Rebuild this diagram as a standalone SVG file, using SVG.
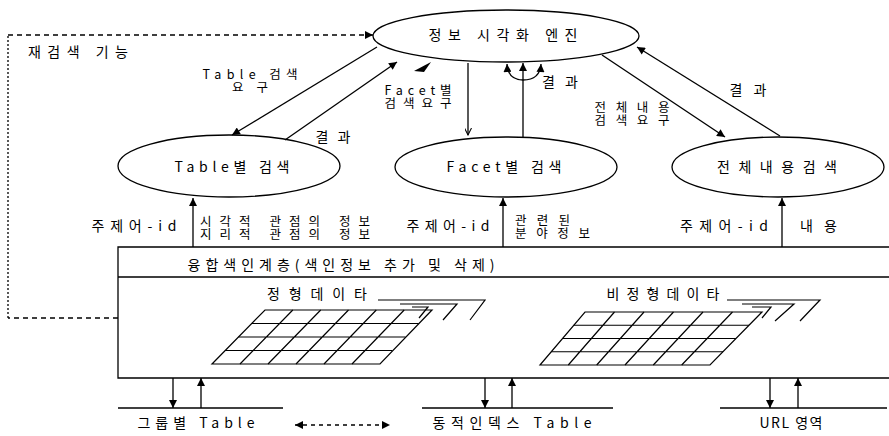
<svg xmlns="http://www.w3.org/2000/svg" width="889" height="436" viewBox="0 0 889 436">
<style>
text{font-family:"Noto Sans CJK KR","Noto Sans",sans-serif;font-size:14px;fill:#000;text-anchor:middle}
.s{text-anchor:start}
.sm{font-size:12.5px}
.ln{stroke:#000;stroke-width:1.3;fill:none}
.nd{stroke:#000;stroke-width:1.3;fill:#fff}
.grid{stroke:#000;stroke-width:1.2;fill:none}
</style>
<defs>
<marker id="arr" viewBox="0 0 10 10" refX="10" refY="5" markerWidth="11" markerHeight="8" markerUnits="userSpaceOnUse" orient="auto-start-reverse"><path d="M0,0 L10,5 L0,10 z" fill="#000"/></marker>
<marker id="open" viewBox="0 0 10 10" refX="10" refY="5" markerWidth="8" markerHeight="7" markerUnits="userSpaceOnUse" orient="auto"><path d="M0,0 L10,5 L0,10" fill="none" stroke="#000" stroke-width="1.5"/></marker>
</defs>
<rect width="889" height="436" fill="#fff"/>

<g id="engine"><ellipse class="nd" cx="506" cy="36" rx="133" ry="26"/><text x="503" y="40" textLength="149" lengthAdjust="spacing">정보 시각화 엔진</text></g>
<g id="table-search"><ellipse class="nd" cx="229" cy="166" rx="111" ry="31"/><text x="232" y="172" textLength="115" lengthAdjust="spacing">Table별 검색</text></g>
<g id="facet-search"><ellipse class="nd" cx="506" cy="167" rx="111" ry="30"/><text x="504" y="172" textLength="115" lengthAdjust="spacing">Facet별 검색</text></g>
<g id="full-search"><ellipse class="nd" cx="778" cy="167" rx="106" ry="30"/><text x="777" y="172" textLength="120" lengthAdjust="spacing">전체내용검색</text></g>

<g id="index-layer">
<path class="ln" d="M889,247 H118 V378 H889 M118,277 H889"/>
<text x="341" y="270" textLength="307" lengthAdjust="spacing">융합색인계층(색인정보 추가 및 삭제)</text>
<text x="317" y="299" textLength="100" lengthAdjust="spacing">정형데이타</text>
<text x="663" y="299" textLength="113" lengthAdjust="spacing">비정형데이타</text>
</g>
<g id="structured-grid" class="grid">
<polygon points="265,310 432,310 380,364 212,364"/>
<path d="M292.8,310 L240,364 M320.7,310 L268,364 M348.5,310 L296,364 M376.3,310 L324,364 M404.2,310 L352,364 M251.75,323.5 H418.75 M238.5,337 H405.5 M225.25,350.5 H392.25"/>
<path d="M378,300 H485 L470,320 M400,304 H457 L443,320 M412,307 H428 L419,318"/>
</g>
<g id="unstructured-grid" class="grid">
<polygon points="585,312 762,312 710,365 540,365"/>
<path d="M614.5,312 L568.3,365 M644,312 L596.7,365 M673.5,312 L625,365 M703,312 L653.3,365 M732.5,312 L681.7,365 M573.75,325.25 H749 M562.5,338.5 H736 M551.25,351.75 H723"/>
<path d="M727,300 H820 L800,321 M742,304 H794 L775,321 M752,307 H771 L762,318"/>
</g>

<g id="group-table"><path class="ln" d="M118,408 H283"/><text x="196" y="428" textLength="117" lengthAdjust="spacing">그룹별 Table</text></g>
<g id="dynamic-index-table"><path class="ln" d="M422,408 H613"/><text x="512" y="428" textLength="159" lengthAdjust="spacing">동적인덱스 Table</text></g>
<g id="url-area"><path class="ln" d="M720,408 H887"/><text x="791" y="428" textLength="63" lengthAdjust="spacing">URL 영역</text></g>

<g id="research-label"><text x="78" y="57" textLength="100" lengthAdjust="spacing">재검색 기능</text></g>

<g id="connectors">
<path class="ln" d="M118,318 H8" stroke-dasharray="5,4"/>
<path class="ln" d="M8,318 V35" stroke-dasharray="2,2"/>
<path class="ln" d="M8,35 H373" stroke-dasharray="5,4" marker-end="url(#arr)"/>

<path class="ln" d="M377,47 L232,135" marker-end="url(#arr)"/>
<path class="ln" d="M285,140 L397,62" marker-end="url(#arr)"/>
<polygon points="414,71 431,62 424,72" fill="#000"/>
<path class="ln" d="M468,63 V135" marker-end="url(#open)"/>
<path class="ln" d="M523,137 V63" marker-end="url(#arr)"/>
<path class="ln" d="M523,80 Q508,80 507,64" marker-end="url(#arr)"/>
<path class="ln" d="M523,80 Q540,80 541,64" marker-end="url(#arr)"/>
<path class="ln" d="M602,55 L725,137" marker-end="url(#arr)"/>
<path class="ln" d="M780,136 L637,47" marker-end="url(#arr)"/>

<path class="ln" d="M193,247 V198" marker-end="url(#arr)"/>
<path class="ln" d="M503,247 V198" marker-end="url(#arr)"/>
<path class="ln" d="M782,247 V198" marker-end="url(#arr)"/>

<path class="ln" d="M173,378 V408" marker-end="url(#arr)"/>
<path class="ln" d="M201,408 V378" marker-end="url(#arr)"/>
<path class="ln" d="M485,378 V408" marker-end="url(#arr)"/>
<path class="ln" d="M512,408 V378" marker-end="url(#arr)"/>
<path class="ln" d="M770,378 V408" marker-end="url(#arr)"/>
<path class="ln" d="M798,408 V378" marker-end="url(#arr)"/>

<path class="ln" d="M295,425 H390" stroke-dasharray="4,4" marker-start="url(#arr)" marker-end="url(#arr)"/>

<text class="sm" x="250" y="79" textLength="95" lengthAdjust="spacing">Table 검색</text>
<text class="sm" x="250" y="92" textLength="36" lengthAdjust="spacing">요구</text>
<text x="333" y="142" textLength="35" lengthAdjust="spacing">결과</text>
<text class="sm" x="418" y="95" textLength="67" lengthAdjust="spacing">Facet별</text>
<text class="sm" x="418" y="108" textLength="67" lengthAdjust="spacing">검색요구</text>
<text x="560" y="87" textLength="36" lengthAdjust="spacing">결과</text>
<text class="sm" x="632" y="112" textLength="75" lengthAdjust="spacing">전체내용</text>
<text class="sm" x="632" y="125" textLength="75" lengthAdjust="spacing">검색요구</text>
<text x="748" y="95" textLength="37" lengthAdjust="spacing">결과</text>
<text x="134" y="231" textLength="85" lengthAdjust="spacing">주제어-id</text>
<text x="448" y="231" textLength="83" lengthAdjust="spacing">주제어-id</text>
<text x="724" y="231" textLength="88" lengthAdjust="spacing">주제어-id</text>
<text class="s sm" x="200" y="226" textLength="170" lengthAdjust="spacing">시각적 관점의 정보</text>
<text class="s sm" x="200" y="239" textLength="170" lengthAdjust="spacing">지리적 관점의 정보</text>
<text class="s sm" x="515" y="225" textLength="55" lengthAdjust="spacing">관련된</text>
<text class="s sm" x="515" y="238" textLength="75" lengthAdjust="spacing">분야정보</text>
<text class="s" x="800" y="231" textLength="37" lengthAdjust="spacing">내용</text>
</g>
</svg>
